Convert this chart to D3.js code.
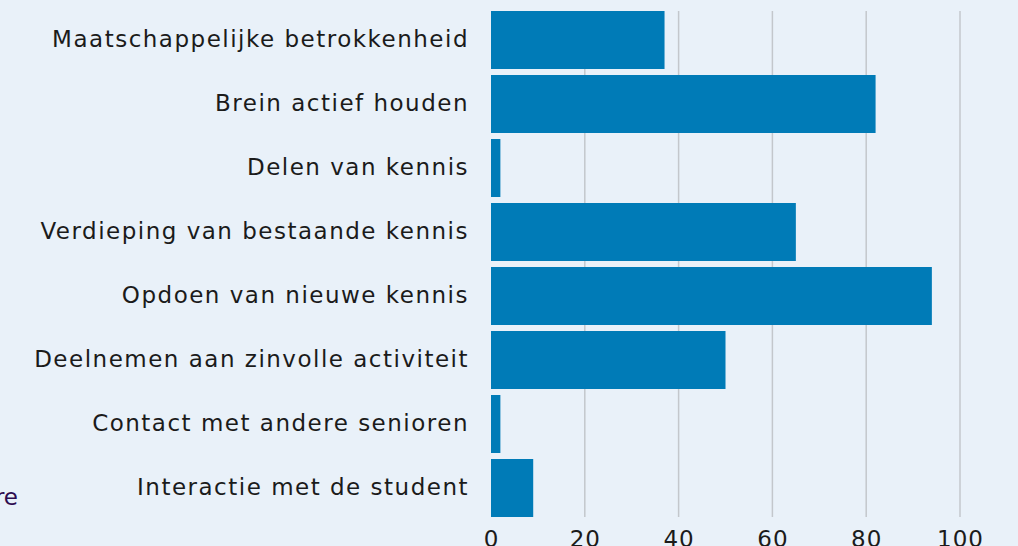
<!DOCTYPE html>
<html>
<head>
<meta charset="utf-8">
<script src="https://cdn.jsdelivr.net/npm/d3@7"></script>
<style>
  html, body { margin: 0; padding: 0; background: #e9f1f9; overflow: hidden; }
  #vis { width: 1018px; height: 546px; }
  text { font-family: "DejaVu Sans", sans-serif; }
</style>
</head>
<body>
<div id="vis"></div>
<script>
var categories = ['Maatschappelijke betrokkenheid', 'Brein actief houden', 'Delen van kennis',
    'Verdieping van bestaande kennis', 'Opdoen van nieuwe kennis', 'Deelnemen aan zinvolle activiteit',
    'Contact met andere senioren', 'Interactie met de student'];
var values = [37, 82, 2, 65, 94, 50, 2, 9];
var tickValues = [0, 20, 40, 60, 80, 100];

var width = 1018, height = 546;
var font = '"DejaVu Sans", sans-serif';

var svg = d3.select('#vis')
    .append('svg')
    .attr('width', width)
    .attr('height', height);

var x_scale = d3.scaleLinear()
    .domain([0, 100])
    .range([491, 960]);

var y_scale = d3.scaleBand()
    .domain(categories)
    .range([11, 517])
    .paddingInner(0.09375)
    .paddingOuter(0);

// grid lines
svg.append('g')
    .selectAll('line')
    .data(tickValues.slice(1))
    .enter()
    .append('line')
    .attr('x1', function(d) { return x_scale(d); })
    .attr('x2', function(d) { return x_scale(d); })
    .attr('y1', 11)
    .attr('y2', 517)
    .attr('stroke', '#c3c7cc')
    .attr('stroke-width', 1.5);

svg.selectAll('.bar')
    .data(values)
    .enter()
    .append('rect')
    .attr('class', 'bar')
    .attr('x', x_scale(0))
    .attr('y', function(d, i) { return y_scale(categories[i]); })
    .attr('width', function(d) { return x_scale(d) - x_scale(0); })
    .attr('height', y_scale.bandwidth())
    .attr('fill', '#007bb7');

// category labels
var y_axis = d3.axisLeft(y_scale).tickSize(0).tickPadding(22);
svg.append('g')
    .attr('transform', 'translate(' + x_scale(0) + ',0)')
    .call(y_axis)
    .call(function(g) { g.select('.domain').remove(); })
    .selectAll('text')
    .attr('font-family', font)
    .attr('font-size', 23)
    .attr('letter-spacing', 1.5)
    .attr('fill', '#1b1b1b');

var x_axis = d3.axisBottom(x_scale).tickValues(tickValues).tickSize(0).tickPadding(14);
svg.append('g')
    .attr('transform', 'translate(0,517)')
    .call(x_axis)
    .call(function(g) { g.select('.domain').remove(); })
    .selectAll('text')
    .attr('font-family', font)
    .attr('font-size', 23)
    .attr('letter-spacing', 1)
    .attr('fill', '#1b1b1b');

// clipped text at the left edge
svg.append('text')
    .attr('x', 18)
    .attr('y', 505)
    .attr('text-anchor', 'end')
    .attr('font-family', font)
    .attr('font-size', 23)
    .attr('fill', '#2e0b50')
    .text('re');
</script>
</body>
</html>
